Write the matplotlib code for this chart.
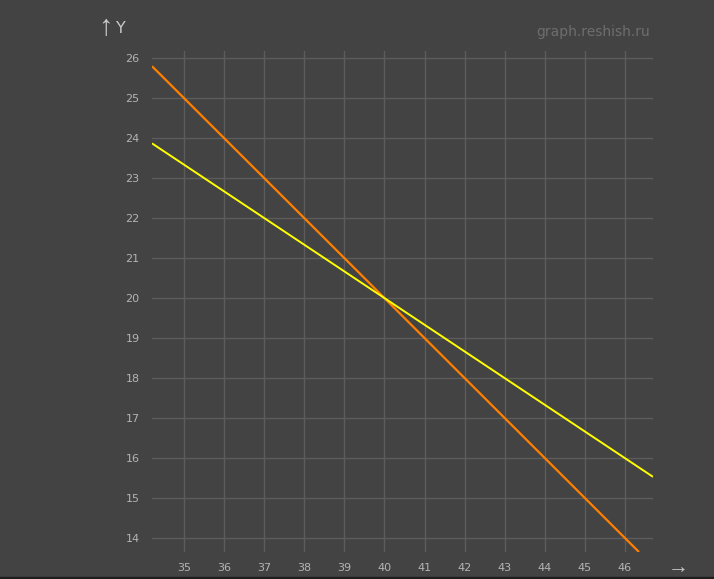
import matplotlib.pyplot as plt

# --- Data ---
orange_x = [34.2, 46.35]
orange_y = [25.8, 13.65]
yellow_x = [34.2, 46.7]
yellow_y = [23.87, 15.53]
x_ticks = list(range(35, 47))
y_ticks = list(range(14, 27))

BG = "#434343"
GRID = "#5c5c5c"
TXT = "#b4b4b4"
ARROW_FONT = ["Liberation Sans", "DejaVu Sans"]

fig = plt.figure(figsize=(7.14, 5.79), dpi=100, facecolor=BG)
ax = fig.add_axes([0.2129, 0.0466, 0.7017, 0.8653], facecolor=BG)

ax.plot(orange_x, orange_y, color="#ff7f00", lw=1.6, solid_capstyle="butt")
ax.plot(yellow_x, yellow_y, color="#ffff00", lw=1.4, solid_capstyle="butt")

ax.set_xlim(34.2, 46.7)
ax.set_ylim(13.65, 26.18)
ax.set_xticks(x_ticks)
ax.set_yticks(y_ticks)
ax.grid(True, color=GRID, lw=1)
ax.set_axisbelow(True)
for s in ax.spines.values():
    s.set_visible(False)
ax.tick_params(length=0, colors=TXT, labelsize=8, pad=9)
ax.tick_params(axis="x", pad=8)

# labels / watermark
fig.text(0.137, 0.953, "\u2191", color="#c8c8c8", fontsize=21, family=ARROW_FONT,
         ha="left", va="center")
fig.text(0.163, 0.950, "Y", color="#c8c8c8", fontsize=11.5, ha="left", va="center")
fig.text(0.911, 0.944, "graph.reshish.ru", color="#6e6e6e", fontsize=10,
         ha="right", va="center")
fig.text(0.950, 0.004, "\u2192", color="#c8c8c8", fontsize=15, family=ARROW_FONT,
         ha="center", va="bottom")

# thin dark strip along the bottom edge
fig.patches.append(plt.Rectangle((0, 0), 1, 0.004, transform=fig.transFigure,
                                 color="#1e1e1e", zorder=10))

fig.savefig("out.png", dpi=100, facecolor=BG)
